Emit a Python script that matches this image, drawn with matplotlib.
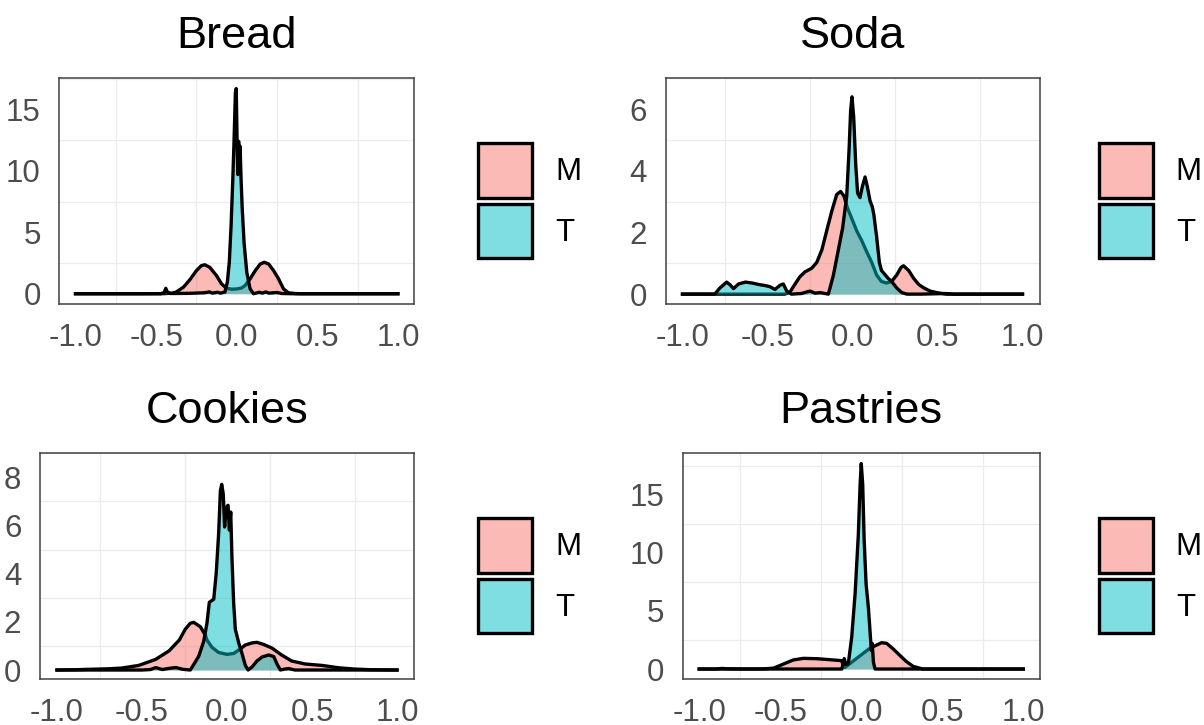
import matplotlib.pyplot as plt
from matplotlib.patches import Patch

plt.rcParams['font.family'] = ['Liberation Sans', 'DejaVu Sans']

FIG_W, FIG_H = 1204, 725

M_COLOR = '#F8766D'
T_COLOR = '#00BFC4'
groups = ['M', 'T']

x_ticks = [-1.0, -0.5, 0.0, 0.5, 1.0]
x_tick_labels = ['-1.0', '-0.5', '0.0', '0.5', '1.0']
x_minor = [-0.75, -0.25, 0.25, 0.75]

# Bread
bread_m_x = [-1.0, -0.6, -0.45, -0.40, -0.375, -0.33, -0.29, -0.25, -0.22, -0.198, -0.167, -0.125,
             -0.094, -0.0625, -0.03, 0.0, 0.03, 0.052, 0.083, 0.115, 0.146, 0.171, 0.198, 0.229,
             0.26, 0.29, 0.32, 0.36, 0.4, 0.6, 1.0]
bread_m_y = [0, 0, 0.01, 0.05, 0.14, 0.54, 1.15, 1.88, 2.28, 2.36, 2.15, 1.47, 0.8, 0.44, 0.37,
             0.39, 0.47, 0.67, 1.21, 1.88, 2.42, 2.56, 2.42, 1.88, 1.21, 0.4, 0.08, 0.02, 0, 0, 0]
bread_t_x = [-1.0, -0.47, -0.45, -0.44, -0.43, -0.41, -0.3, -0.2, -0.17, -0.15, -0.12, -0.1,
             -0.085, -0.073, -0.058, -0.046, -0.035, -0.025, -0.017, -0.008, -0.003, 0.003, 0.007,
             0.012, 0.017, 0.021, 0.027, 0.034, 0.046, 0.0625, 0.083, 0.104, 0.14, 0.16, 0.18,
             0.2, 0.25, 0.28, 0.35, 1.0]
bread_t_y = [0, 0, 0.1, 0.44, 0.15, 0.02, 0.03, 0.08, 0.15, 0.05, 0.12, 0.05, 0.1, 0.14, 0.94,
             2.55, 5.5, 9.0, 12.2, 16.4, 16.7, 12.0, 9.7, 12.4, 10.3, 12.0, 9.4, 7.0, 4.1, 1.75,
             0.4, 0.0, 0.12, 0.05, 0.15, 0.05, 0.1, 0.02, 0, 0]

# Soda
soda_m_x = [-1.0, -0.40, -0.37, -0.34, -0.31, -0.28, -0.24, -0.21, -0.18, -0.152, -0.123, -0.093,
            -0.07, -0.05, -0.03, -0.005, 0.025, 0.054, 0.083, 0.113, 0.142, 0.17, 0.20, 0.23,
            0.26, 0.286, 0.30, 0.33, 0.36, 0.39, 0.42, 0.456, 0.495, 0.55, 1.0]
soda_m_y = [0, 0, 0.05, 0.31, 0.56, 0.72, 0.84, 1.03, 1.44, 2.05, 2.67, 3.23, 3.33, 3.18, 2.8,
            2.46, 2.05, 1.74, 1.38, 1.03, 0.62, 0.41, 0.36, 0.41, 0.62, 0.87, 0.92, 0.77, 0.51,
            0.31, 0.2, 0.1, 0.05, 0, 0]
soda_t_x = [-1.0, -0.81, -0.78, -0.74, -0.72, -0.70, -0.67, -0.63, -0.59, -0.55, -0.515, -0.485,
            -0.456, -0.426, -0.407, -0.387, -0.36, -0.30, -0.25, -0.22, -0.19, -0.142, -0.113,
            -0.083, -0.058, -0.034, -0.02, -0.011, -0.003, 0.007, 0.019, 0.03, 0.044, 0.058,
            0.074, 0.087, 0.103, 0.117, 0.126, 0.142, 0.158, 0.17, 0.19, 0.21, 0.23, 0.26, 0.29,
            0.32, 0.4, 0.55, 0.6, 1.0]
soda_t_y = [0, 0, 0.2, 0.39, 0.3, 0.18, 0.33, 0.39, 0.36, 0.31, 0.28, 0.24, 0.15, 0.29, 0.33,
            0.1, 0, 0.02, 0.1, 0.03, 0.05, 0.0, 0.6, 1.44, 2.15, 3.18, 4.7, 5.95, 6.4, 5.74,
            4.2, 3.28, 3.13, 3.49, 3.8, 3.49, 3.03, 2.82, 2.56, 1.85, 1.03, 0.77, 0.64, 0.51,
            0.41, 0.2, 0.05, 0, 0, 0.02, 0, 0]

# Cookies
cookies_m_x = [-1.0, -0.9, -0.81, -0.7, -0.62, -0.52, -0.42, -0.34, -0.28, -0.245, -0.216, -0.196,
               -0.157, -0.127, -0.118, -0.088, -0.05, 0.0, 0.04, 0.078, 0.108, 0.147, 0.176,
               0.216, 0.265, 0.32, 0.38, 0.46, 0.56, 0.66, 0.75, 0.85, 1.0]
cookies_m_y = [0, 0.01, 0.03, 0.05, 0.08, 0.19, 0.44, 0.8, 1.25, 1.7, 1.94, 1.98, 1.8, 1.44,
               1.25, 0.94, 0.73, 0.65, 0.69, 0.875, 1.04, 1.125, 1.15, 1.06, 0.91, 0.63, 0.375,
               0.25, 0.19, 0.09, 0.04, 0.01, 0]
cookies_t_x = [-1.0, -0.5, -0.45, -0.42, -0.38, -0.33, -0.3, -0.26, -0.216, -0.167, -0.137,
               -0.118, -0.104, -0.078, -0.063, -0.049, -0.039, -0.031, -0.022, -0.014, -0.004,
               0.006, 0.014, 0.022, 0.029, 0.039, 0.049, 0.069, 0.088, 0.108, 0.124, 0.147,
               0.176, 0.206, 0.245, 0.275, 0.294, 0.314, 0.34, 0.363, 0.40, 1.0]
cookies_t_y = [0, 0, 0.02, 0.1, 0.02, 0.08, 0.1, 0.03, 0, 0.56, 1.19, 1.94, 2.81, 2.94, 4.06,
               5.69, 7.44, 7.71, 7.31, 5.94, 6.75, 6.84, 5.81, 6.56, 4.69, 2.81, 1.69, 1.125,
               0.69, 0.19, 0, 0.125, 0.375, 0.54, 0.625, 0.56, 0.25, 0, 0.04, 0.06, 0, 0]

# Pastries
pastries_m_x = [-1.0, -0.9, -0.86, -0.82, -0.7, -0.6, -0.54, -0.48, -0.42, -0.357, -0.275,
                -0.19, -0.12, -0.11, -0.10, 0.054, 0.085, 0.126, 0.157, 0.198, 0.24, 0.28,
                0.32, 0.38, 1.0]
pastries_m_y = [0, 0, 0.05, 0.02, 0, 0.01, 0.08, 0.43, 0.78, 0.92, 0.89, 0.80, 0.72, 0.15,
                0.15, 1.8, 2.0, 2.27, 2.21, 1.72, 1.15, 0.63, 0.23, 0, 0]
pastries_t_x = [-1.0, -0.12, -0.105, -0.095, -0.08, -0.059, -0.038, -0.018, -0.007, 0.0, 0.009,
                0.018, 0.03, 0.044, 0.054, 0.062, 0.068, 0.075, 0.085, 1.0]
pastries_t_y = [0, 0, 0.9, 0.4, 0.45, 2.73, 6.47, 11.6, 15.9, 17.7, 15.9, 11.1, 7.3, 5.3, 3.3,
                1.6, 2.2, 0.6, 0, 0]

bread_yticks = [0, 5, 10, 15]
soda_yticks = [0, 2, 4, 6]
cookies_yticks = [0, 2, 4, 6, 8]
pastries_yticks = [0, 5, 10, 15]


def px_axes(fig, left, top, right, bottom):
    return fig.add_axes([left / FIG_W, 1 - bottom / FIG_H,
                         (right - left) / FIG_W, (bottom - top) / FIG_H])


def draw_panel(ax, title, mx, my, tx, ty, yticks):
    # same drawing order as ggplot: M polygon + outline, then T on top
    ax.fill_between(mx, my, color=M_COLOR, alpha=0.5, lw=0, zorder=2)
    ax.plot(mx, my, color='black', lw=2.4, solid_joinstyle='round', zorder=2.1)
    ax.fill_between(tx, ty, color=T_COLOR, alpha=0.5, lw=0, zorder=2.2)
    ax.plot(tx, ty, color='black', lw=2.4, solid_joinstyle='round', zorder=2.3)

    ymax = max(max(my), max(ty))
    ax.set_xlim(-1.1, 1.1)
    ax.set_ylim(-0.05 * ymax, 1.05 * ymax)

    ax.set_xticks(x_ticks)
    ax.set_xticklabels(x_tick_labels)
    ax.set_xticks(x_minor, minor=True)
    step = yticks[1] - yticks[0]
    ax.set_yticks(yticks)
    ax.set_yticks([v + step / 2 for v in yticks], minor=True)

    ax.grid(False, which='major')
    ax.grid(True, which='minor', color='#EBEBEB', lw=0.9)
    ax.set_axisbelow(True)
    ax.tick_params(which='both', length=0)
    ax.tick_params(which='major', labelsize=22.5, labelcolor='#4D4D4D', pad=13.5)
    for s in ax.spines.values():
        s.set_color('#404040')
        s.set_linewidth(1.1)
    ax.set_title(title, fontsize=32.5, pad=21.5, color='black')


fig = plt.figure(figsize=(FIG_W / 100, FIG_H / 100), dpi=100)

panels = [
    ('Bread', bread_m_x, bread_m_y, bread_t_x, bread_t_y, bread_yticks,
     (59.4, 78.3, 414, 304), (478, 143.4)),
    ('Soda', soda_m_x, soda_m_y, soda_t_x, soda_t_y, soda_yticks,
     (665.5, 78.3, 1039.5, 304), (1099, 143.4)),
    ('Cookies', cookies_m_x, cookies_m_y, cookies_t_x, cookies_t_y, cookies_yticks,
     (40, 453.3, 414, 679.3), (478, 518.4)),
    ('Pastries', pastries_m_x, pastries_m_y, pastries_t_x, pastries_t_y, pastries_yticks,
     (683, 453.3, 1039.5, 679.3), (1099, 518.4)),
]

for title, mx, my, tx, ty, yticks, box, leg in panels:
    ax = px_axes(fig, *box)
    draw_panel(ax, title, mx, my, tx, ty, yticks)
    handles = [Patch(facecolor=(0.973, 0.463, 0.427, 0.5), edgecolor='black', lw=2.4),
               Patch(facecolor=(0.0, 0.749, 0.769, 0.5), edgecolor='black', lw=2.4)]
    fig.legend(handles, groups, loc='upper left',
               bbox_to_anchor=(leg[0] / FIG_W, 1 - leg[1] / FIG_H),
               frameon=False, fontsize=22.5, handlelength=1.74, handleheight=2.30,
               handletextpad=0.72, labelspacing=0.19, borderpad=0, borderaxespad=0)

fig.savefig('out.png', dpi=100)
